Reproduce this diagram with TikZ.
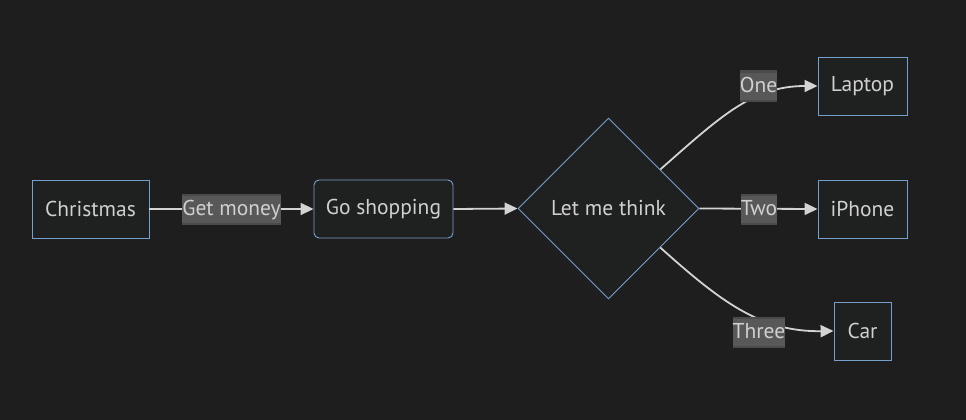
\documentclass[tikz,border=0pt]{standalone}
\usepackage{fontspec}
\setmainfont{PT Sans}
\usetikzlibrary{shapes.geometric,arrows.meta,calc}
\definecolor{bg}{HTML}{1E1E1E}
\definecolor{nodefill}{HTML}{1F2020}
\definecolor{nodeline}{HTML}{76A0CC}
\definecolor{txt}{HTML}{D0D0D0}
\definecolor{edge}{HTML}{D3D3D3}
\definecolor{lblout}{HTML}{4A4A4A}
\definecolor{lblin}{HTML}{585858}
\newcommand{\edgetext}[1]{{\setlength{\fboxsep}{0pt}\colorbox{lblin}{\rule[-7pt]{0pt}{27pt}#1}}}
\tikzset{
  base/.style={draw=nodeline, fill=nodefill, line width=0.9pt, text=txt,
    font=\fontsize{21.5}{25}\selectfont, inner sep=0pt},
  procbox/.style={base, rectangle, minimum height=58pt},
  roundbox/.style={procbox, rounded corners=5pt},
  decision/.style={base, diamond, minimum width=181pt, minimum height=181pt},
  edgelbl/.style={fill=lblout, text=txt, inner xsep=0pt, inner ysep=2pt,
    font=\fontsize{21.5}{25}\selectfont},
  link/.style={draw=edge, line width=1.8pt, -{Triangle[length=13pt,width=12pt]}},
}
\begin{document}
\begin{tikzpicture}[x=1pt,y=-1pt]
  \fill[bg] (0,0) rectangle (966,420);
  \useasboundingbox (0,0) rectangle (966,420);

  % nodes
  \node[procbox, minimum width=117pt] (xmas) at (90.5,209) {Christmas};
  \node[roundbox, minimum width=139pt] (shop) at (383.5,209) {Go shopping};
  \node[decision] (think) at (608.5,208.5) {Let me think};
  \node[procbox, minimum width=89pt] (laptop) at (862.5,86) {Laptop};
  \node[procbox, minimum width=89pt] (iphone) at (862.5,209) {iPhone};
  \node[procbox, minimum width=57pt] (car) at (862.5,331) {Car};

  % connectors
  \coordinate (upout) at ($(think.east)!0.43!(think.north)$);
  \coordinate (downout) at ($(think.east)!0.43!(think.south)$);
  \path[link] (xmas.east) -- (shop.west);
  \path[link] (shop.east) -- (think.east -| think.west);
  \path[link] (think.east) -- (iphone.west);
  \path[link] (upout) .. controls (720,117) and (752,86) .. (laptop.west);
  \path[link] (downout) .. controls (720,301) and (760,332) .. (car.west);

  % edge labels
  \node[edgelbl] (l1) at (231.5,209) {\edgetext{Get money}};
  \node[edgelbl] (l2) at (758.5,86) {\edgetext{One}};
  \node[edgelbl] (l3) at (759,209) {\edgetext{Two}};
  \node[edgelbl] (l4) at (759,332) {\edgetext{Three}};
\end{tikzpicture}
\end{document}
